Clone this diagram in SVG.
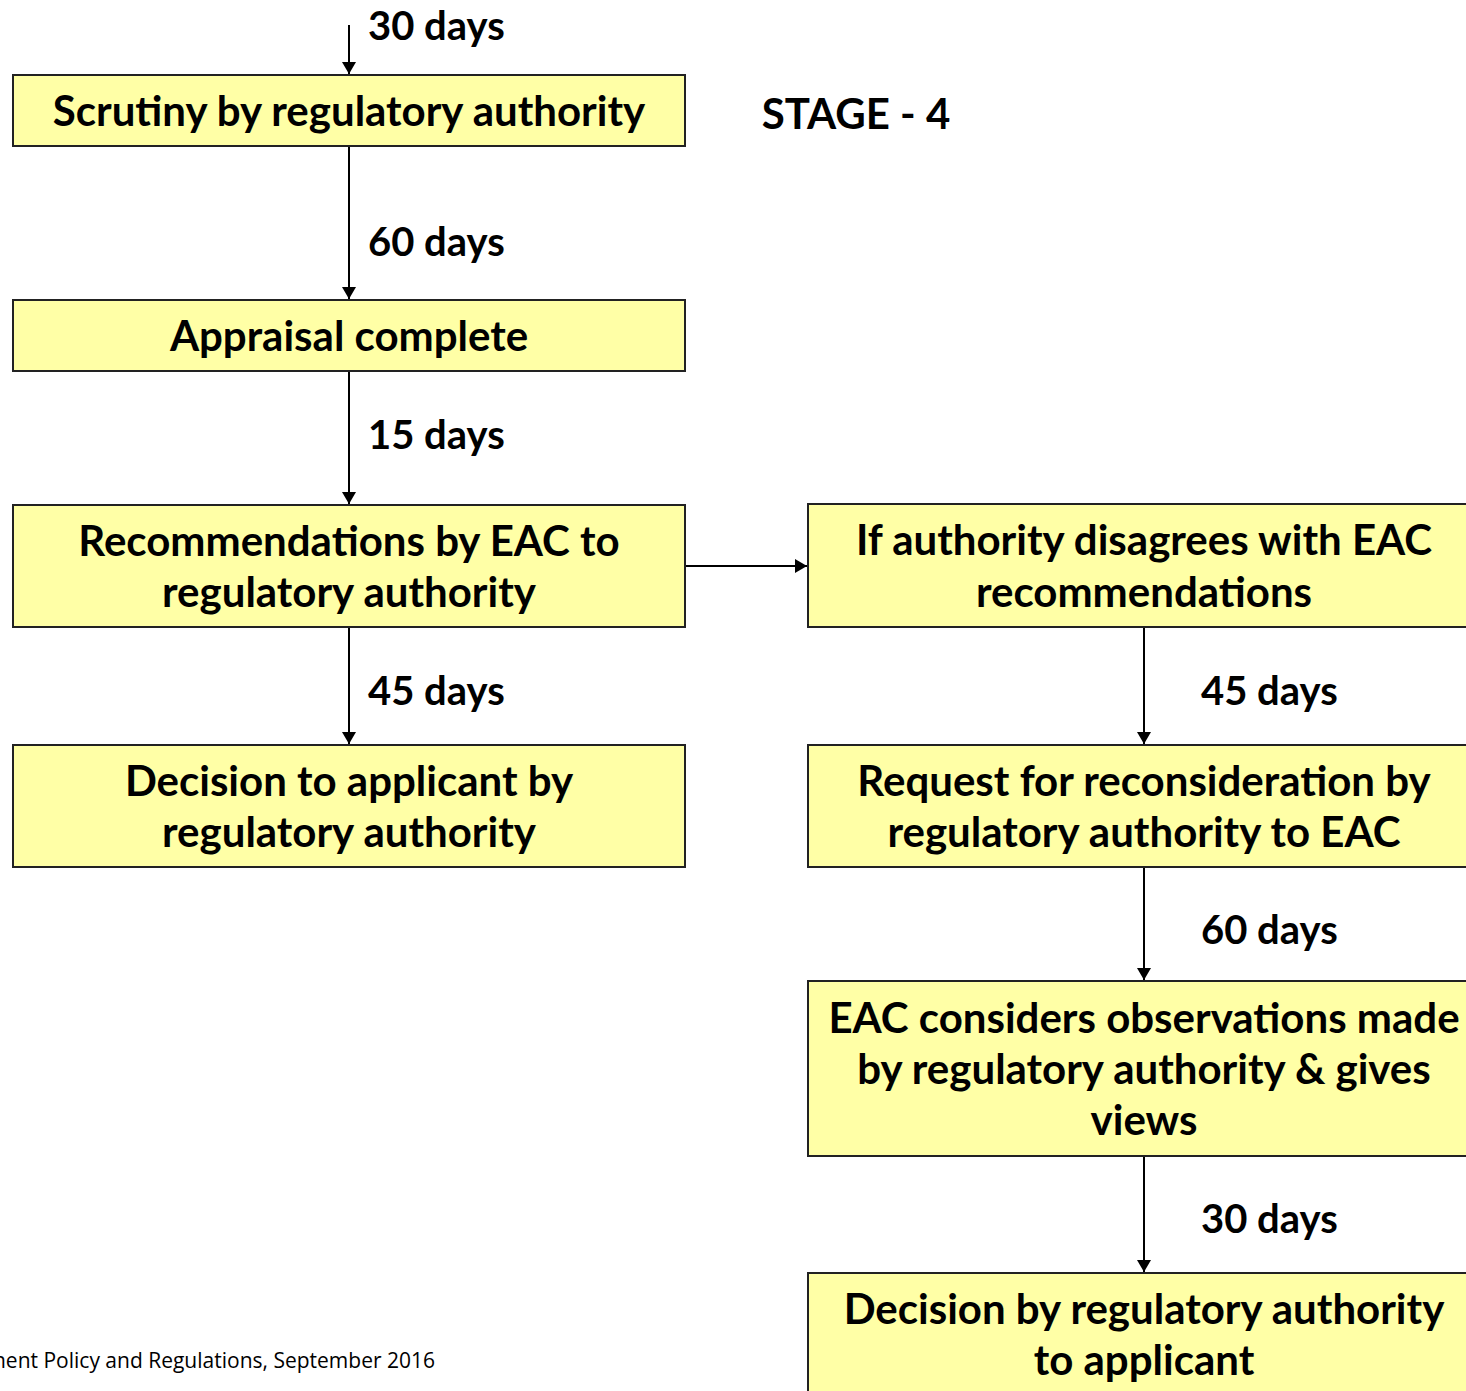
<svg xmlns="http://www.w3.org/2000/svg" width="1466" height="1391" viewBox="0 0 1466 1391">
<style>
.box{fill:#FFFFA6;stroke:#222;stroke-width:2}
.t{font-family:Lato,"Open Sans",sans-serif;font-weight:bold;font-size:42px;fill:#000;text-anchor:middle}
.lbl{font-family:Lato,"Open Sans",sans-serif;font-weight:bold;font-size:40px;fill:#000}
.c{stroke:#000;stroke-width:2;fill:none;marker-end:url(#ah)}
.foot{font-family:"Open Sans",sans-serif;font-size:21px;fill:#000;text-anchor:end}
</style>
<defs>
<marker id="ah" viewBox="0 0 12 14" refX="12" refY="7" markerWidth="12" markerHeight="14" markerUnits="userSpaceOnUse" orient="auto">
<path d="M0,0 L12,7 L0,14 Z" fill="#000"/>
</marker>
</defs>
<rect width="1466" height="1391" fill="#fff"/>
<g id="connectors">
<line class="c" x1="349" y1="25" x2="349" y2="74"/>
<line class="c" x1="349" y1="147" x2="349" y2="299"/>
<line class="c" x1="349" y1="372" x2="349" y2="504"/>
<line class="c" x1="349" y1="628" x2="349" y2="744"/>
<line class="c" x1="686" y1="566" x2="807" y2="566"/>
<line class="c" x1="1144" y1="628" x2="1144" y2="744"/>
<line class="c" x1="1144" y1="868" x2="1144" y2="980"/>
<line class="c" x1="1144" y1="1157" x2="1144" y2="1272"/>
<text class="lbl" x="368" y="40">30 days</text>
<text class="lbl" x="368" y="256">60 days</text>
<text class="lbl" x="368" y="449">15 days</text>
<text class="lbl" x="368" y="705">45 days</text>
<text class="lbl" x="1201" y="705">45 days</text>
<text class="lbl" x="1201" y="944">60 days</text>
<text class="lbl" x="1201" y="1233">30 days</text>
</g>
<g id="n1"><rect class="box" x="13" y="75" width="672" height="71"/><text class="t" x="349" y="126">Scrutiny by regulatory authority</text></g>
<g id="n2"><rect class="box" x="13" y="300" width="672" height="71"/><text class="t" x="349" y="351">Appraisal complete</text></g>
<g id="n3"><rect class="box" x="13" y="505" width="672" height="122"/><text class="t" x="349" y="556">Recommendations by EAC to</text><text class="t" x="349" y="607">regulatory authority</text></g>
<g id="n4"><rect class="box" x="13" y="745" width="672" height="122"/><text class="t" x="349" y="796">Decision to applicant by</text><text class="t" x="349" y="847">regulatory authority</text></g>
<g id="n5"><rect class="box" x="808" y="504" width="672" height="123"/><text class="t" x="1144" y="555">If authority disagrees with EAC</text><text class="t" x="1144" y="607">recommendations</text></g>
<g id="n6"><rect class="box" x="808" y="745" width="672" height="122"/><text class="t" x="1144" y="796">Request for reconsideration by</text><text class="t" x="1144" y="847">regulatory authority to EAC</text></g>
<g id="n7"><rect class="box" x="808" y="981" width="672" height="175"/><text class="t" x="1144" y="1033">EAC considers observations made</text><text class="t" x="1144" y="1084">by regulatory authority &amp; gives</text><text class="t" x="1144" y="1135">views</text></g>
<g id="n8"><rect class="box" x="808" y="1273" width="672" height="140"/><text class="t" x="1144" y="1324">Decision by regulatory authority</text><text class="t" x="1144" y="1375">to applicant</text></g>
<g id="stage"><text class="t" x="856" y="129">STAGE - 4</text></g>
<g id="footer"><text class="foot" x="435" y="1368">nent Policy and Regulations, September 2016</text></g>
</svg>
